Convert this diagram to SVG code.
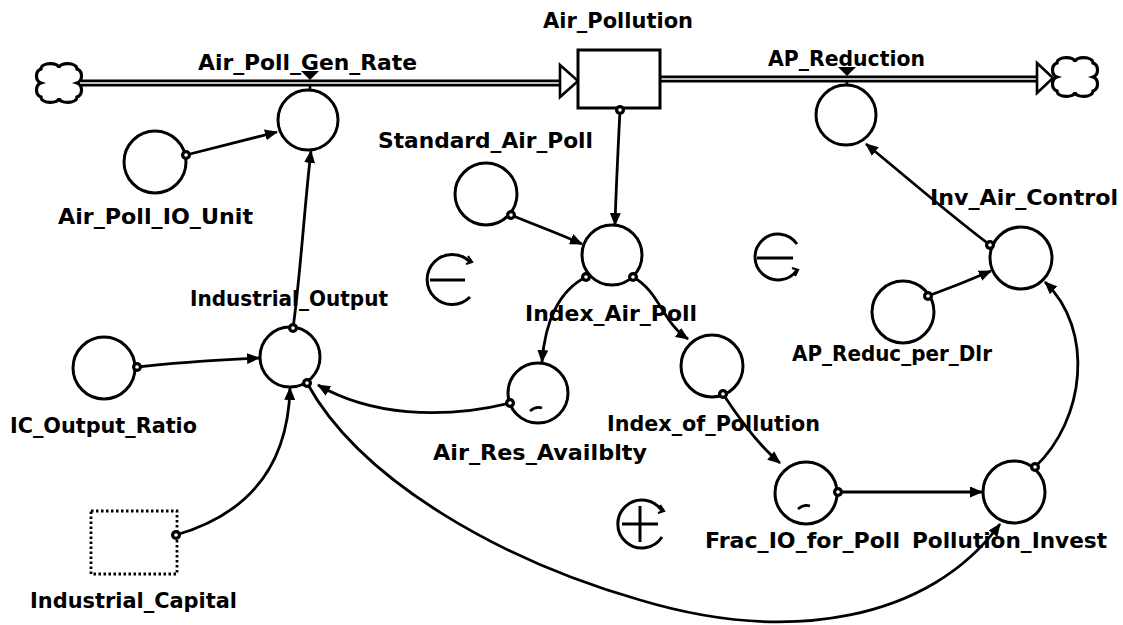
<svg xmlns="http://www.w3.org/2000/svg" width="1123" height="625" viewBox="0 0 1123 625">
<style>
text{font-family:"DejaVu Sans","Liberation Sans",sans-serif;font-weight:bold;font-size:21px;fill:#000}
.aux{fill:#fff;stroke:#000;stroke-width:3}
.link{fill:none;stroke:#000;stroke-width:2.8;marker-end:url(#ah)}
.pipe{fill:none;stroke:#000;stroke-width:7}
.pipein{fill:none;stroke:#fff;stroke-width:1.6}
.cloud{fill:#fff;stroke:#000;stroke-width:3.2}
.loop{fill:none;stroke:#000;stroke-width:3}
</style>
<defs>
<marker id="ah" viewBox="0 0 13 11" refX="12" refY="5.5" markerWidth="13" markerHeight="11" markerUnits="userSpaceOnUse" orient="auto">
<path d="M0,0 L13,5.5 L0,11 Z" fill="#000"/>
</marker>
<g id="dot"><circle r="5" fill="#000"/><circle r="1.8" fill="#fff"/></g>
<path id="cloudp" d="M22,5 C22,-1 40,-1 40,6 C46,8 46,18 40,20 C46,22 46,32 40,34 C40,41 22,41 22,35 C22,41 4,41 4,34 C-2,32 -2,22 4,20 C-2,18 -2,8 4,6 C4,-1 22,-1 22,5 Z"/>
</defs>

<g id="flows">
<use href="#cloudp" class="cloud" transform="translate(37,63)"/>
<path class="pipe" d="M80,83 L562,83"/><path class="pipein" d="M80,83 L562,83"/>
<polygon points="560,65 578,81 560,97" fill="#fff" stroke="#000" stroke-width="2.6"/>
<path class="pipe" d="M660,79 L1038,79"/><path class="pipein" d="M660,79 L1038,79"/>
<polygon points="1037,63 1053,78 1037,93" fill="#fff" stroke="#000" stroke-width="2.6"/>
<use href="#cloudp" class="cloud" transform="translate(1053,57)"/>
</g>

<g id="Air_Pollution">
<rect x="578" y="50" width="82" height="58" fill="#fff" stroke="#000" stroke-width="3"/>
<text x="543" y="28" textLength="150" lengthAdjust="spacingAndGlyphs">Air_Pollution</text>
</g>

<g id="Air_Poll_Gen_Rate">
<polygon points="301,71 319,71 310,80" fill="#000"/>
<line x1="310" y1="86" x2="310" y2="91" stroke="#000" stroke-width="2.6"/>
<circle class="aux" cx="308" cy="120" r="30"/>
<text x="198" y="70" textLength="219" lengthAdjust="spacingAndGlyphs">Air_Poll_Gen_Rate</text>
</g>

<g id="AP_Reduction">
<polygon points="838,67 856,67 847,76" fill="#000"/>
<line x1="847" y1="82" x2="847" y2="87" stroke="#000" stroke-width="2.6"/>
<circle class="aux" cx="846" cy="115" r="30"/>
<text x="768" y="66" textLength="157" lengthAdjust="spacingAndGlyphs">AP_Reduction</text>
</g>

<g id="Air_Poll_IO_Unit">
<circle class="aux" cx="155" cy="162" r="31"/>
<text x="58" y="224" textLength="195" lengthAdjust="spacingAndGlyphs">Air_Poll_IO_Unit</text>
</g>

<g id="Standard_Air_Poll">
<circle class="aux" cx="486" cy="194" r="31"/>
<text x="378" y="148" textLength="215" lengthAdjust="spacingAndGlyphs">Standard_Air_Poll</text>
</g>

<g id="Index_Air_Poll">
<circle class="aux" cx="612" cy="255" r="30"/>
<text x="525" y="321" textLength="172" lengthAdjust="spacingAndGlyphs">Index_Air_Poll</text>
</g>

<g id="Inv_Air_Control">
<circle class="aux" cx="1021" cy="258" r="31"/>
<text x="930" y="205" textLength="188" lengthAdjust="spacingAndGlyphs">Inv_Air_Control</text>
</g>

<g id="AP_Reduc_per_Dlr">
<circle class="aux" cx="903" cy="312" r="31"/>
<text x="792" y="361" textLength="200" lengthAdjust="spacingAndGlyphs">AP_Reduc_per_Dlr</text>
</g>

<g id="Industrial_Output">
<circle class="aux" cx="290" cy="357" r="30"/>
<text x="190" y="306" textLength="198" lengthAdjust="spacingAndGlyphs">Industrial_Output</text>
</g>

<g id="IC_Output_Ratio">
<circle class="aux" cx="104" cy="368" r="31"/>
<text x="10" y="433" textLength="187" lengthAdjust="spacingAndGlyphs">IC_Output_Ratio</text>
</g>

<g id="Air_Res_Availblty">
<circle class="aux" cx="538" cy="393" r="30"/>
<path d="M530,411 Q536,406 542,408" fill="none" stroke="#000" stroke-width="2.6"/>
<text x="433" y="460" textLength="214" lengthAdjust="spacingAndGlyphs">Air_Res_Availblty</text>
</g>

<g id="Index_of_Pollution">
<circle class="aux" cx="712" cy="366" r="31"/>
<text x="607" y="431" textLength="213" lengthAdjust="spacingAndGlyphs">Index_of_Pollution</text>
</g>

<g id="Frac_IO_for_Poll">
<circle class="aux" cx="806" cy="493" r="31"/>
<path d="M798,509 Q804,504 810,506" fill="none" stroke="#000" stroke-width="2.6"/>
<text x="705" y="548" textLength="195" lengthAdjust="spacingAndGlyphs">Frac_IO_for_Poll</text>
</g>

<g id="Pollution_Invest">
<circle class="aux" cx="1014" cy="492" r="31"/>
<text x="912" y="548" textLength="195" lengthAdjust="spacingAndGlyphs">Pollution_Invest</text>
</g>

<g id="Industrial_Capital">
<rect x="91" y="511" width="86" height="63" fill="#fff" stroke="#000" stroke-width="2.8" stroke-dasharray="2.5,2.5"/>
<text x="30" y="608" textLength="207" lengthAdjust="spacingAndGlyphs">Industrial_Capital</text>
</g>

<g id="loops">
<path class="loop" d="M470,262 A25,25 0 1 0 470,297"/>
<path d="M468,256 L472,262 L466,264" fill="none" stroke="#000" stroke-width="2.2"/>
<line x1="430" y1="280" x2="465" y2="280" stroke="#000" stroke-width="3"/>
<path class="loop" d="M797,244 A23,23 0 1 0 797,270"/>
<path d="M795,276 L798,270 L792,268" fill="none" stroke="#000" stroke-width="2.2"/>
<line x1="757" y1="258" x2="793" y2="258" stroke="#000" stroke-width="3"/>
<path class="loop" d="M662,511 A24,24 0 1 0 662,537"/>
<path d="M660,505 L664,511 L658,513" fill="none" stroke="#000" stroke-width="2.2"/>
<line x1="622" y1="524" x2="658" y2="524" stroke="#000" stroke-width="3"/>
<line x1="640" y1="506" x2="640" y2="542" stroke="#000" stroke-width="3"/>
</g>

<g id="connectors">
<path class="link" d="M186,155 L277,132"/>
<path class="link" d="M293,328 C300,280 305,200 311,151"/>
<path class="link" d="M620,110 C618,150 616,190 615,225"/>
<path class="link" d="M511,215 C535,225 555,232 582,244"/>
<path class="link" d="M586,277 C560,290 545,320 542,362"/>
<path class="link" d="M633,277 C660,292 662,322 688,339"/>
<path class="link" d="M510,403 C440,420 370,415 318,385"/>
<path class="link" d="M137,367 C180,362 220,360 259,358"/>
<path class="link" d="M176,535 C245,515 288,470 290,388"/>
<path class="link" d="M307,383 C360,480 500,560 640,600 C790,645 930,620 1000,524"/>
<path class="link" d="M723,394 C740,420 758,445 780,463"/>
<path class="link" d="M838,492 L982,492"/>
<path class="link" d="M1035,467 C1085,420 1095,330 1045,282"/>
<path class="link" d="M928,296 C950,288 970,280 991,271"/>
<path class="link" d="M990,245 C950,215 910,180 866,144"/>
<use href="#dot" x="186" y="155"/>
<use href="#dot" x="293" y="328"/>
<use href="#dot" x="620" y="110"/>
<use href="#dot" x="511" y="215"/>
<use href="#dot" x="586" y="277"/>
<use href="#dot" x="633" y="277"/>
<use href="#dot" x="510" y="403"/>
<use href="#dot" x="137" y="367"/>
<use href="#dot" x="176" y="535"/>
<use href="#dot" x="307" y="383"/>
<use href="#dot" x="723" y="394"/>
<use href="#dot" x="838" y="492"/>
<use href="#dot" x="1035" y="467"/>
<use href="#dot" x="928" y="296"/>
<use href="#dot" x="990" y="245"/>
</g>
</svg>
